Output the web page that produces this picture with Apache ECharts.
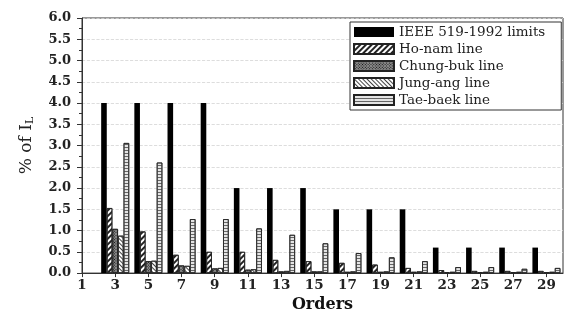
<!DOCTYPE html>
<html lang="en">
	<head>
		<meta charset="UTF-8">
		<title>Harmonic current</title>
		<script src="https://cdn.jsdelivr.net/npm/echarts@6/dist/echarts.min.js"></script>
		<style type="text/css">
			html, body {
				margin: 0;
				padding: 0;
				background: #fff;
			}
			#chart {
				width: 565px;
				height: 318px;
			}
		</style>
	</head>
	<body>
		<div id="chart"></div>
	</body>
	<script type="text/javascript">
		// harmonic orders
		var orders = [3, 5, 7, 9, 11, 13, 15, 17, 19, 21, 23, 25, 27, 29];
		var xTicks = [1, 3, 5, 7, 9, 11, 13, 15, 17, 19, 21, 23, 25, 27, 29];
		var yTicks = [0, 0.5, 1, 1.5, 2, 2.5, 3, 3.5, 4, 4.5, 5, 5.5, 6];
		// % of IL for each line
		var ieee = [4, 4, 4, 4, 2, 2, 2, 1.5, 1.5, 1.5, 0.6, 0.6, 0.6, 0.6];
		var honam = [1.53, 0.98, 0.43, 0.5, 0.5, 0.31, 0.28, 0.24, 0.2, 0.12, 0.07, 0.05, 0.05, 0.05];
		var chungbuk = [1.04, 0.28, 0.18, 0.11, 0.08, 0.04, 0.04, 0.03, 0.03, 0.03, 0.02, 0.02, 0.02, 0.02];
		var jungang = [0.88, 0.29, 0.17, 0.12, 0.09, 0.05, 0.04, 0.04, 0.04, 0.04, 0.03, 0.03, 0.03, 0.03];
		var taebaek = [3.06, 2.6, 1.27, 1.27, 1.05, 0.9, 0.7, 0.47, 0.37, 0.28, 0.14, 0.14, 0.1, 0.12];
		var names = ['IEEE 519-1992 limits', 'Ho-nam line', 'Chung-buk line', 'Jung-ang line', 'Tae-baek line'];

		function pairs(vals) {
			var out = [];
			for (var i = 0; i < orders.length; i++) {
				out.push([orders[i], vals[i]]);
			}
			return out;
		}

		var serif = 'DejaVu Serif';
		var chart = echarts.init(document.getElementById('chart'));

		// bar look for each series
		var looks = [
			{ color: '#000', decal: null },
			{ color: '#fff', decal: { symbol: 'rect', symbolSize: 1, color: '#222', dashArrayX: [1, 0], dashArrayY: [1.2, 1.8], rotation: -Math.PI / 4 } },
			{ color: '#8a8a8a', decal: { symbol: 'rect', symbolSize: 1, color: '#111', dashArrayX: [1, 1], dashArrayY: [1, 1], rotation: Math.PI / 4 } },
			{ color: '#fff', decal: { symbol: 'rect', symbolSize: 1, color: '#444', dashArrayX: [1, 0], dashArrayY: [1, 1.6], rotation: Math.PI / 4 } },
			{ color: '#e4e4e4', decal: { symbol: 'rect', symbolSize: 1, color: '#666', dashArrayX: [1, 0], dashArrayY: [1, 2], rotation: 0 } }
		];
		var values = [ieee, honam, chungbuk, jungang, taebaek];

		var series = [];
		for (var s = 0; s < names.length; s++) {
			var style = {
				color: looks[s].color,
				borderColor: '#222',
				borderWidth: s == 0 ? 0 : 0.8
			};
			if (looks[s].decal) {
				style.decal = looks[s].decal;
			}
			series.push({
				name: names[s],
				type: 'bar',
				barWidth: 5.6,
				barGap: '0%',
				itemStyle: style,
				data: pairs(values[s])
			});
		}

		var option = {
			animation: false,
			grid: {
				left: 82,
				right: 2,
				top: 18,
				bottom: 38,
				show: true,
				borderColor: '#333',
				borderWidth: 1
			},
			legend: {
				data: names,
				orient: 'vertical',
				left: 350,
				top: 22,
				icon: 'rect',
				itemWidth: 40,
				itemHeight: 10,
				itemGap: 3,
				padding: [3, 16, 3, 3],
				borderColor: '#333',
				borderWidth: 1,
				backgroundColor: '#fff',
				textStyle: {
					fontFamily: serif,
					fontSize: 13.5,
					color: '#222'
				}
			},
			xAxis: {
				type: 'value',
				min: 1,
				max: 30,
				interval: 2,
				name: 'Orders',
				nameLocation: 'middle',
				nameGap: 21,
				nameTextStyle: {
					fontFamily: serif,
					fontWeight: 'bold',
					fontSize: 16,
					color: '#111'
				},
				axisLine: { lineStyle: { color: '#333' } },
				axisTick: { length: 4, lineStyle: { color: '#333' } },
				splitLine: { show: false },
				axisLabel: {
					showMaxLabel: false,
					margin: 5,
					fontFamily: serif,
					fontWeight: 'bold',
					fontSize: 13.5,
					color: '#222',
					formatter: function (v) {
						return xTicks.indexOf(v) >= 0 ? v : '';
					}
				}
			},
			yAxis: {
				type: 'value',
				min: yTicks[0],
				max: yTicks[yTicks.length - 1],
				interval: 0.5,
				name: '{a|% of I}{b|L}',
				nameLocation: 'middle',
				nameGap: 46,
				nameTextStyle: {
					rich: {
						a: { fontFamily: serif, fontSize: 17, color: '#222' },
						b: { fontFamily: serif, fontSize: 11, color: '#222', padding: [8, 0, 0, 0] }
					}
				},
				axisLine: { show: true, lineStyle: { color: '#333' } },
				axisTick: { show: true, length: 5, lineStyle: { color: '#333' } },
				minorTick: { show: true, splitNumber: 2, length: 3, lineStyle: { color: '#333' } },
				splitLine: { show: true, lineStyle: { color: '#d4d4d4', type: 'dashed', width: 0.8 } },
				axisLabel: {
					margin: 11,
					fontFamily: serif,
					fontWeight: 'bold',
					fontSize: 13,
					color: '#222',
					formatter: function (v) {
						return v.toFixed(1);
					}
				}
			},
			series: series
		};
		chart.setOption(option);
	</script>
</html>
